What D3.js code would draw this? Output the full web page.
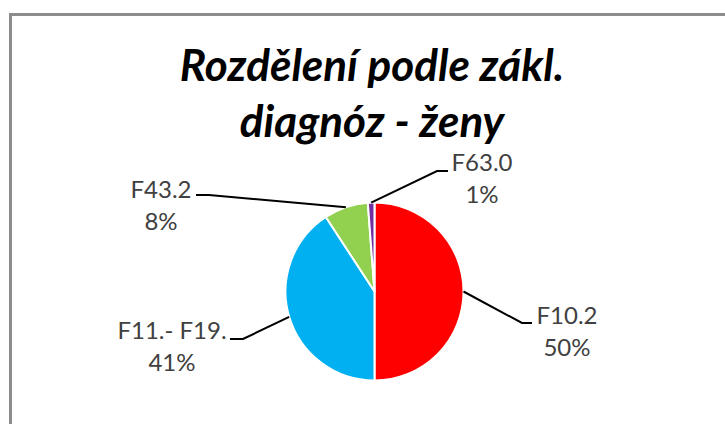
<!DOCTYPE html>
<html>
<head>
<meta charset="utf-8">
<script src="https://cdn.jsdelivr.net/npm/d3@7"></script>
<style>
  body { margin: 0; background: #fff; }
  svg { display: block; }
</style>
</head>
<body>
<div id="chart"></div>
<script>
// chart data
const categories = ["F10.2", "F11.- F19.", "F43.2", "F63.0"];
const values = [50, 40.8, 8, 1.2];
const percentLabels = ["50%", "41%", "8%", "1%"];
const colors = ["#ff0000", "#00b0f0", "#92d050", "#7030a0"];
const titleLines = ["Rozdělení podle zákl.", "diagnóz - ženy"];

// label placement (centre x, first baseline y) and leader elbow
const labelPos = [
    {x: 567, y: 324, elbow: [522, 323], end: [532, 323]},
    {x: 172, y: 339, elbow: [243, 339], end: [230, 339]},
    {x: 161, y: 198, elbow: [209, 195], end: [196, 195]},
    {x: 482, y: 171, elbow: [437, 171], end: [448, 171]}
];

const width = 725, height = 424;
const cx = 374.5, cy = 291.5, r = 89;

let svg = d3.select("#chart").append("svg")
    .attr("width", width)
    .attr("height", height);

// chart frame
svg.append("rect")
    .attr("x", 10.5)
    .attr("y", 14.5)
    .attr("width", 760)
    .attr("height", 460)
    .attr("fill", "none")
    .attr("stroke", "#8c8c8c")
    .attr("stroke-width", 3);

// title
svg.append("g")
    .selectAll("text")
    .data(titleLines)
    .enter()
    .append("text")
    .attr("x", 372)
    .attr("y", (d, i) => 81 + i * 56)
    .attr("text-anchor", "middle")
    .attr("font-family", "Lato, sans-serif")
    .attr("font-weight", "bold")
    .attr("font-style", "italic")
    .attr("font-size", 44)
    .attr("fill", "#000")
    .text(d => d);

// pie
let pie = d3.pie().sort(null).value(d => d);
let arcs = pie(values);
let arc = d3.arc().innerRadius(0).outerRadius(r);
let edge = d3.arc().innerRadius(r).outerRadius(r);

let g = svg.append("g").attr("transform", `translate(${cx},${cy})`);

g.selectAll("path")
    .data(arcs)
    .enter()
    .append("path")
    .attr("d", arc)
    .attr("fill", (d, i) => colors[i])
    .attr("stroke", "#fff")
    .attr("stroke-width", 2);

// leader lines
svg.append("g")
    .selectAll("polyline")
    .data(arcs)
    .enter()
    .append("polyline")
    .attr("points", (d, i) => {
        let c = edge.centroid(d);
        let p = labelPos[i];
        return [[cx + c[0], cy + c[1]], p.elbow, p.end].map(q => q.join(",")).join(" ");
    })
    .attr("fill", "none")
    .attr("stroke", "#000")
    .attr("stroke-width", 2);

// data labels
let labels = svg.append("g")
    .selectAll("text")
    .data(categories)
    .enter()
    .append("text")
    .attr("text-anchor", "middle")
    .attr("font-family", "Lato, sans-serif")
    .attr("font-size", 24)
    .attr("fill", "#404040");

labels.append("tspan")
    .attr("x", (d, i) => labelPos[i].x)
    .attr("y", (d, i) => labelPos[i].y)
    .text(d => d);

labels.append("tspan")
    .attr("x", (d, i) => labelPos[i].x)
    .attr("y", (d, i) => labelPos[i].y + 32)
    .text((d, i) => percentLabels[i]);
</script>
</body>
</html>
